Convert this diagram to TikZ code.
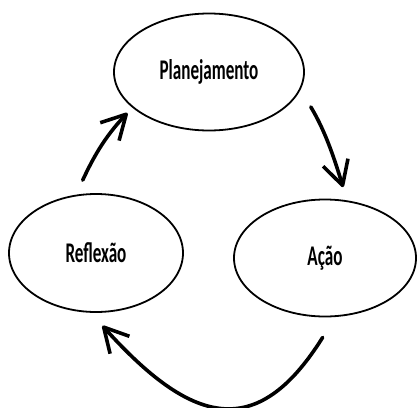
\documentclass[tikz,border=0pt]{standalone}
\usepackage{fontspec}
\setmainfont{Carlito}[FakeStretch=0.6]
\usetikzlibrary{shapes.geometric,arrows.meta}

\begin{document}
\begin{tikzpicture}[x=1pt,y=1pt,
	etapa/.style={shape=ellipse,draw=black,line width=1.8pt,inner sep=0pt,
		font=\fontsize{28.5}{28.5}\selectfont\bfseries},
	seta/.style={line width=3.6pt,line cap=round,
		-{Straight Barb[length=24pt,width=26pt,line join=round]}}]
	
	\useasboundingbox (0,0) rectangle (417,-407);
	
	\node[etapa,minimum width=190pt,minimum height=117pt] (plan) at (209, -72)  {Planejamento};
	\node[etapa,minimum width=174pt,minimum height=118pt] (refl) at (96, -253)  {Reflexão};
	\node[etapa,minimum width=182pt,minimum height=117pt] (acao) at (325, -258) {Ação};
	\path[seta] (plan.-11) edge[out=-59,in=107,shorten <=20pt,shorten >=13.8pt] (acao.69);
	\path[seta] (acao.-80) edge[out=-122,in=-48,looseness=1.56,shorten <=24pt,shorten >=17.5pt] (refl.-95);
	\path[seta] (refl.109) edge[out=65,in=-133.5,shorten <=16pt,shorten >=7.2pt] (plan.205);
	
\end{tikzpicture}
\end{document}
